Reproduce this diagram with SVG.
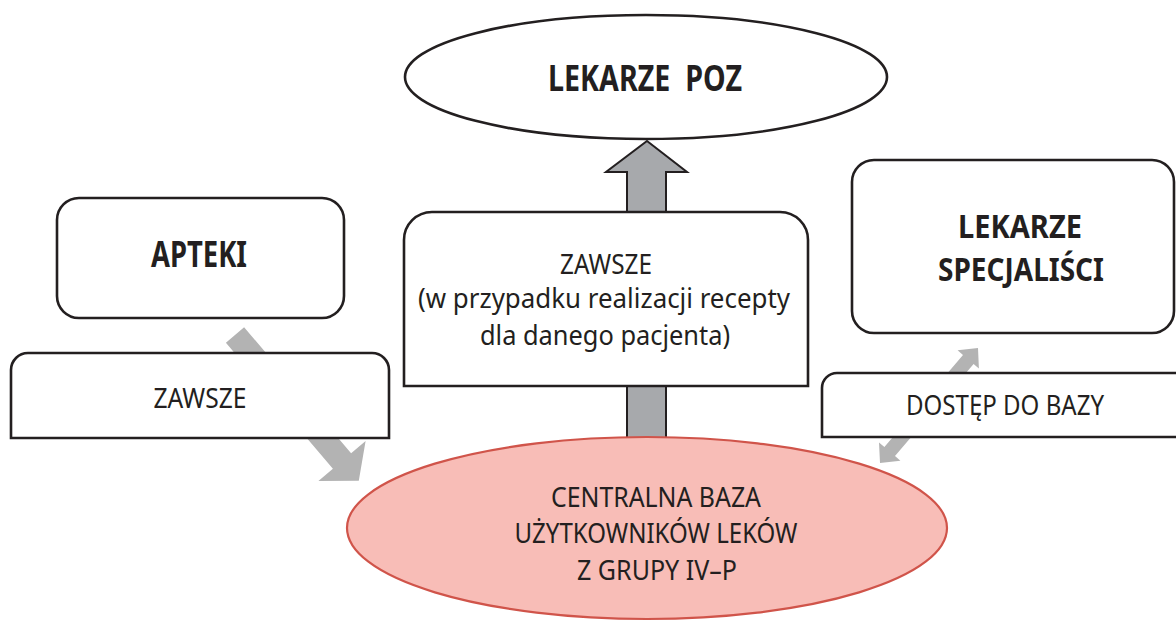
<svg xmlns="http://www.w3.org/2000/svg" width="1176" height="621" viewBox="0 0 1176 621">
<style>
.box{fill:#fff;stroke:#231f20;stroke-width:2.6}
.t{font-family:"Noto Sans","Liberation Sans",sans-serif;font-size:27px;fill:#231f20;text-anchor:middle}
.b{font-weight:bold;font-size:36px}
.s{font-size:32px}
.ga{fill:#b3b3b3;stroke:none}
</style>
<rect width="1176" height="621" fill="#fff"/>
<g id="connectors">
  <polygon class="ga" points="244.1,327.2 351.1,453.2 365.6,440.9 358.8,480.8 318.4,481.1 332.9,468.8 225.9,342.8"/>
  <polygon points="647,141 687,172 666,172 666,445 627,445 627,172 606,172" fill="#a7a9ac" stroke="#231f20" stroke-width="2" stroke-linejoin="miter"/>
  <polygon class="ga" points="978,348 978.9,368.5 973.6,364 895,456.1 900.4,460.7 880,463 879,442.5 884.4,447.1 963,354.9 957.6,350.3"/>
</g>
<g id="lekarze-poz">
  <ellipse cx="646" cy="77" rx="241" ry="62" fill="#fff" stroke="#231f20" stroke-width="2.6"/>
  <text class="t b" x="645" y="91" textLength="194" lengthAdjust="spacingAndGlyphs" xml:space="preserve">LEKARZE  POZ</text>
</g>
<g id="apteki">
  <rect class="box" x="57" y="198" width="287" height="120" rx="22"/>
  <text class="t b" x="199" y="267" textLength="96" lengthAdjust="spacingAndGlyphs">APTEKI</text>
</g>
<g id="zawsze-left">
  <path class="box" d="M11,438 V370 A17 17 0 0 1 28,353 H372 A17 17 0 0 1 389,370 V438 Z"/>
  <text class="t" x="200" y="408" textLength="93" lengthAdjust="spacingAndGlyphs">ZAWSZE</text>
</g>
<g id="zawsze-center">
  <path class="box" d="M404,386 V240 A28 28 0 0 1 432,212 H780 A28 28 0 0 1 808,240 V386 Z"/>
  <text class="t" x="606" y="274" textLength="92" lengthAdjust="spacingAndGlyphs">ZAWSZE</text>
  <text class="t" x="604" y="308" textLength="372" lengthAdjust="spacingAndGlyphs">(w przypadku realizacji recepty</text>
  <text class="t" x="605" y="345" textLength="250" lengthAdjust="spacingAndGlyphs">dla danego pacjenta)</text>
</g>
<g id="lekarze-specjalisci">
  <rect class="box" x="852" y="160" width="322" height="173" rx="22"/>
  <text class="t b s" x="1020" y="238" textLength="124" lengthAdjust="spacingAndGlyphs">LEKARZE</text>
  <text class="t b s" x="1021" y="281" textLength="166" lengthAdjust="spacingAndGlyphs">SPECJALIŚCI</text>
</g>
<g id="dostep">
  <path class="box" d="M822,437 V388 A15 15 0 0 1 837,373 H1190 V437 Z"/>
  <text class="t" x="1005" y="415" textLength="198" lengthAdjust="spacingAndGlyphs">DOSTĘP DO BAZY</text>
</g>
<g id="centralna-baza">
  <ellipse cx="647" cy="528" rx="300" ry="91" fill="#f8bdb7" stroke="#d0544a" stroke-width="2.2"/>
  <text class="t" x="656" y="507" textLength="210" lengthAdjust="spacingAndGlyphs">CENTRALNA BAZA</text>
  <text class="t" x="656" y="543" textLength="283" lengthAdjust="spacingAndGlyphs">UŻYTKOWNIKÓW LEKÓW</text>
  <text class="t" x="657" y="580" textLength="160" lengthAdjust="spacingAndGlyphs">Z GRUPY IV–P</text>
</g>
</svg>
